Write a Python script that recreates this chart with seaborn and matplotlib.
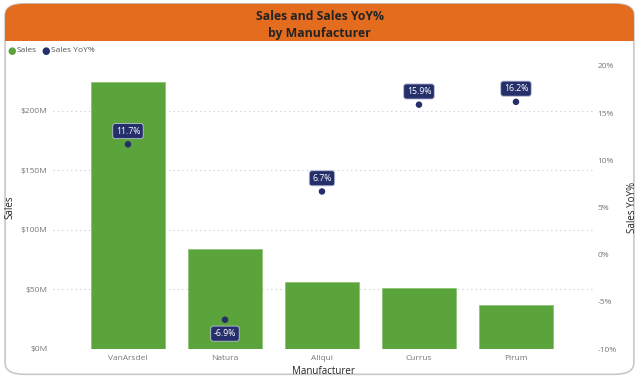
import pandas as pd
import seaborn as sns
from matplotlib import pyplot as plt
from matplotlib.patches import FancyBboxPatch, Rectangle
from matplotlib.ticker import FuncFormatter

manufacturers = ["VanArsdel", "Natura", "Aliqui", "Currus", "Pirum"]
sales_m = [224, 84, 56, 51, 37]
yoy_pct = [11.7, -6.9, 6.7, 15.9, 16.2]

df = pd.DataFrame({"Manufacturer": manufacturers, "Sales": sales_m, "YoY": yoy_pct})

sns.set_style("white")
plt.rcParams['font.family'] = ['Open Sans', 'DejaVu Sans']

bar_color = "#5BA33B"
dot_color = "#252F6A"
head_color = "#E46C1F"
tick_color = "#777777"

fig = plt.figure(figsize=(6.39, 3.8), dpi=100)

# card background and header
card = FancyBboxPatch((0.008, 0.015), 0.984, 0.975, boxstyle="round,pad=0,rounding_size=0.03",
                      transform=fig.transFigure, facecolor="white", edgecolor="#C8C8C8",
                      linewidth=1.2, zorder=-3)
fig.patches.append(card)
head = FancyBboxPatch((0.008, 0.893), 0.984, 0.097, boxstyle="round,pad=0,rounding_size=0.03",
                      transform=fig.transFigure, facecolor=head_color, edgecolor="none", zorder=-2)
fig.patches.append(head)
fig.patches.append(Rectangle((0.008, 0.893), 0.984, 0.05, transform=fig.transFigure,
                             facecolor=head_color, edgecolor="none", zorder=-2))
fig.text(0.5, 0.934, "Sales and Sales YoY%\nby Manufacturer", ha="center", va="center",
         fontsize=8.8, fontweight="bold", color="#252423", linespacing=1.45)

# plot area 53px..593px wide, 66px..349px tall
ax = fig.add_axes([53 / 639, 31 / 380, 540 / 639, 283 / 380])
sns.barplot(data=df, x="Manufacturer", y="Sales", color=bar_color, width=0.77,
            saturation=1, ax=ax, zorder=2, edgecolor="#8CC474", linewidth=0.6)
ax.set_ylim(0, 237.8)
ax.set_yticks([0, 50, 100, 150, 200])
ax.yaxis.set_major_formatter(FuncFormatter(lambda v, p: f"${v:.0f}M"))
ax.grid(axis="y", linestyle=(0, (1, 3)), color="#C8C8C8", linewidth=0.8, zorder=0)
for s in ax.spines.values():
    s.set_visible(False)
ax.tick_params(axis="both", length=0, labelsize=6, colors=tick_color, pad=4)
ax.set_xlabel("Manufacturer", fontsize=7, color="#252423", labelpad=3)
ax.set_ylabel("Sales", fontsize=7, color="#252423")
ax.yaxis.set_label_coords(-0.07, 0.5)

ax2 = ax.twinx()
sns.scatterplot(data=df, x="Manufacturer", y="YoY", color=dot_color, s=22, edgecolor="none",
                ax=ax2, zorder=5)
ax2.set_ylim(-10, 20)
ax2.set_yticks([-10, -5, 0, 5, 10, 15, 20])
ax2.yaxis.set_major_formatter(FuncFormatter(lambda v, p: f"{v:.0f}%"))
for s in ax2.spines.values():
    s.set_visible(False)
ax2.tick_params(axis="y", length=0, labelsize=6, colors=tick_color, pad=3)
ax2.set_ylabel("Sales YoY%", fontsize=7, color="#252423")
ax2.yaxis.set_label_coords(1.063, 0.5)
ax.set_xlim(-0.773, 4.794)
ax2.set_xlim(-0.773, 4.794)

for i, v in enumerate(yoy_pct):
    off = 9.5 if v >= 0 else -10
    ax2.annotate(f"{v:.1f}%", (i, v), xytext=(0, off), textcoords="offset points",
                 ha="center", va="center", fontsize=6.3, color="white", zorder=6,
                 bbox=dict(boxstyle="round,pad=0.35,rounding_size=0.3", facecolor=dot_color,
                           edgecolor="#BFC3D9", linewidth=0.6))

# legend
fig.text(0.011, 0.867, "●", color=bar_color, fontsize=7, va="center", family="DejaVu Sans")
fig.text(0.026, 0.867, "Sales", color="#555555", fontsize=6, va="center")
fig.text(0.065, 0.867, "●", color=dot_color, fontsize=7, va="center", family="DejaVu Sans")
fig.text(0.080, 0.867, "Sales YoY%", color="#555555", fontsize=6, va="center")

fig.savefig("out.png", dpi=100)
